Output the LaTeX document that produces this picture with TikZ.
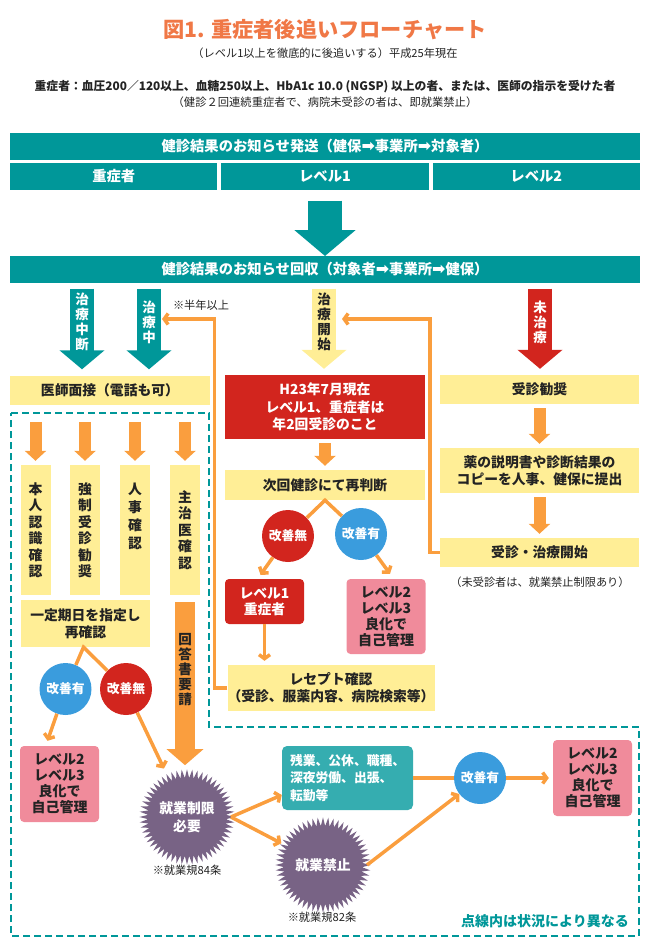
\documentclass[tikz,border=0pt]{standalone}
\usepackage{fontspec}
\setmainfont{Noto Sans CJK JP}
\newfontfamily\symfont{DejaVu Sans}
\usetikzlibrary{shapes.geometric, arrows.meta, positioning, calc}
\definecolor{myteal}{RGB}{0,151,153}
\definecolor{mytealb}{RGB}{53,173,176}
\definecolor{myyellow}{RGB}{255,238,150}
\definecolor{myorange}{RGB}{250,158,62}
\definecolor{myred}{RGB}{210,37,30}
\definecolor{myblue}{RGB}{58,156,221}
\definecolor{mypink}{RGB}{240,139,155}
\definecolor{mypurple}{RGB}{120,99,133}
\definecolor{mytitle}{RGB}{240,120,70}
\definecolor{mydark}{RGB}{35,35,35}
\newcommand{\nextarrow}{{\symfont\fontsize{16}{16}\selectfont ➡}}
\tikzset{
  bar/.style={rectangle, fill=myteal, text=white, minimum width=630pt,
    minimum height=27pt, inner sep=0pt, font=\fontsize{14.3}{16}\selectfont\bfseries},
  cell/.style={bar, minimum width=207.3pt},
  ybox/.style={rectangle, fill=myyellow, text=mydark, align=center, inner sep=0pt,
    minimum height=29pt, font=\fontsize{13.8}{17}\selectfont\bfseries},
  tallbox/.style={ybox, minimum width=30pt, minimum height=130pt,
    font=\fontsize{13.8}{16.5}\selectfont\bfseries},
  redbox/.style={rectangle, fill=myred, text=white, align=center, inner sep=0pt,
    font=\fontsize{13.8}{17.5}\selectfont\bfseries},
  pinkbox/.style={rectangle, fill=mypink, text=mydark, rounded corners=4pt, align=center,
    minimum width=79pt, minimum height=76pt, inner sep=0pt,
    font=\fontsize{14}{16}\selectfont\bfseries},
  okcirc/.style={circle, fill=myblue, text=white, minimum size=52pt, inner sep=0pt,
    font=\fontsize{12.8}{14}\selectfont\bfseries},
  ngcirc/.style={okcirc, fill=myred},
  burst/.style={star, star points=56, star point ratio=1.22, fill=mypurple, text=white,
    minimum size=89pt, inner sep=0pt, align=center, font=\fontsize{13.8}{18}\selectfont\bfseries},
  vtext/.style={align=center, inner sep=0pt, font=\fontsize{13.5}{15}\selectfont\bfseries},
  note/.style={inner sep=0pt, text=mydark, font=\fontsize{11.2}{12}\selectfont},
  oline/.style={draw=myorange, line width=3.5pt},
  oarrow/.style={oline, -{Straight Barb[length=4pt,width=11pt]}},
  fatarrow/.style={draw=myorange, line width=12pt, -{Triangle[length=10pt,width=21pt]},
    shorten <=4pt, shorten >=4pt},
  blockarrow/.style={line width=24pt, -{Triangle[length=19pt,width=44pt]},
    shorten <=6pt, shorten >=6pt}
}

\begin{document}
\begin{tikzpicture}[x=1pt, y=-1pt]
  \useasboundingbox (0,0) rectangle (650,946);

  % Title
  \node[text=mytitle, font=\fontsize{21.2}{24}\selectfont\bfseries] (title) at (325,30) {図1. 重症者後追いフローチャート};
  \node[note] (sub) at (325,53) {（レベル1以上を徹底的に後追いする）平成25年現在};
  \node[note, font=\fontsize{11.8}{13}\selectfont\bfseries] (crit) at (325,87) {重症者：血圧200／120以上、血糖250以上、HbA1c 10.0 (NGSP) 以上の者、または、医師の指示を受けた者};
  \node[note, font=\fontsize{11.3}{13}\selectfont] (crit2) at (325,102) {（健診２回連続重症者で、病院未受診の者は、即就業禁止）};

  % Send / receive bars
  \node[bar] (send) at (325,146) {健診結果のお知らせ発送（健保\nextarrow 事業所\nextarrow 対象者）};
  \node[cell] (cellA) at (113.7,176) {重症者};
  \node[cell] (cellB) at (325,176) {レベル1};
  \node[cell] (cellC) at (536.3,176) {レベル2};
  \draw[myteal, line width=34pt, -{Triangle[length=26pt,width=60pt]}]
    ([yshift=-11pt]cellB.south) -- ([yshift=13pt]cellB.south |- 0,269);
  \node[bar] (recv) at (325,269) {健診結果のお知らせ回収（対象者\nextarrow 事業所\nextarrow 健保）};

  % Boxes under the bar
  \node[ybox, minimum width=200pt] (interview) at (110,390) {医師面接（電話も可）};
  \node[redbox, minimum width=200pt, minimum height=64pt] (h23) at (325,407) {H23年7月現在\\レベル1、重症者は\\年2回受診のこと};
  \node[ybox, minimum width=199pt] (adv) at (539.5,389.5) {受診勧奨};
  \node[ybox, minimum width=199pt, minimum height=45pt] (copy) at (539.5,470.5) {薬の説明書や診断結果の\\コピーを人事、健保に提出};
  \node[ybox, minimum width=199pt] (start) at (539.5,552.5) {受診・治療開始};
  \node[note] (startnote) at (540,582) {（未受診者は、就業禁止制限あり）};

  % Block arrows
  \coordinate (colA) at (82,0);
  \coordinate (colB) at (149,0);
  \coordinate (colC) at (324,0);
  \coordinate (colD) at (540,0);
  \draw[blockarrow, myteal] (recv.south -| colA) -- (interview.north -| colA);
  \draw[blockarrow, myteal] (recv.south -| colB) -- (interview.north -| colB);
  \draw[blockarrow, myyellow] (recv.south -| colC) -- (h23.north -| colC);
  \draw[blockarrow, myred] (recv.south -| colD) -- (adv.north -| colD);
  \node[vtext, text=white] (stopped) at (82,322) {治\\療\\中\\断};
  \node[vtext, text=white] (treating) at (149,322) {治\\療\\中};
  \node[vtext, text=mydark] (begun) at (324,322) {治\\療\\開\\始};
  \node[vtext, text=white] (untreated) at (540,322) {未\\治\\療};
  \node[note] (halfyear) at (201,305) {※半年以上};

  % Middle column
  \node[ybox, minimum width=200pt, minimum height=30pt] (judge) at (325,485) {次回健診にて再判断};
  \node[ngcirc] (ng2) at (288,536) {改善無};
  \node[okcirc] (ok3) at (361,534) {改善有};
  \node[redbox, rounded corners=4pt, minimum width=79pt, minimum height=45pt,
    font=\fontsize{13.8}{16}\selectfont\bfseries] (l1) at (264.5,601.5) {レベル1\\重症者};
  \node[pinkbox, minimum height=75pt] (pink3) at (386,616.5) {レベル2\\レベル3\\良化で\\自己管理};
  \node[ybox, minimum width=200pt, minimum height=46pt] (rcpt) at (331,688) {レセプト確認\\（受診、服薬内容、病院検索等）};

  \draw[fatarrow] (h23) -- (judge);
  \draw[fatarrow] (adv) -- (copy);
  \draw[fatarrow] (copy) -- (start);
  \draw[oline] (ng2) -- (judge.south) -- (ok3);
  \draw[oarrow] (ng2) -- ([xshift=-4pt,yshift=4pt]l1.north);
  \draw[oarrow] (ok3) -- ([xshift=4pt,yshift=5pt]pink3.north);
  \draw[oarrow, shorten >=4pt] (l1) -- (l1 |- rcpt.north);

  % Loops back
  \coordinate (loopA) at (162,319);
  \coordinate (loopB) at (342,319);
  \draw[oarrow] (rcpt.west) -- ++(-13,0) |- (loopA);
  \draw[oarrow] (start.west) -- ++(-10,0) |- (loopB);

  % Dashed region
  \draw[myteal, line width=2.5pt, dash pattern=on 7pt off 4pt]
    (11,413) -- (209,413) -- (209,727) -- (639,727) -- (639,936) -- (11,936) -- cycle;
  \node[text=myteal, inner sep=0pt, font=\fontsize{14}{16}\selectfont\bfseries] (dashnote) at (545,921) {点線内は状況により異なる};

  % Checks
  \node[tallbox] (chk1) at (35.5,530) {本\\人\\認\\識\\確\\認};
  \node[tallbox] (chk2) at (85,530) {強\\制\\受\\診\\勧\\奨};
  \node[tallbox, font=\fontsize{13.8}{18}\selectfont\bfseries] (chk3) at (135,530) {人\\事\\確\\認\\[10pt]};
  \node[tallbox] (chk4) at (185,530) {主\\治\\医\\確\\認};
  \foreach \c in {chk1,chk2,chk3,chk4}
    \draw[fatarrow, shorten <=0pt, shorten >=0pt] ([yshift=43pt]\c.north) -- ([yshift=4pt]\c.north);
  \node[ybox, minimum width=129pt, minimum height=47pt] (recheck) at (85.5,623.5) {一定期日を指定し\\再確認};
  \node[okcirc] (ok1) at (65.5,689) {改善有};
  \node[ngcirc] (ng1) at (126,689) {改善無};
  \node[pinkbox] (pink1) at (59.5,784) {レベル2\\レベル3\\良化で\\自己管理};
  \draw[fatarrow, line width=20pt, -{Triangle[length=16pt,width=36pt]}, shorten <=0pt, shorten >=0pt]
    ([yshift=-7pt]chk4.south) -- ([yshift=-170pt]chk4.south);
  \node[vtext, text=mydark] (reply) at (185,670) {回\\答\\書\\要\\請};
  \draw[oline] (ok1) -- ([xshift=-2pt]recheck.south) -- (ng1);
  \draw[oarrow] (ok1) -- ([xshift=-12pt,yshift=5pt]pink1.north);

  % Work limits
  \node[burst] (burst84) at (187,817) {就業制限\\必要};
  \node[note, font=\fontsize{11.2}{13}\selectfont] (law84) at (187,870) {※就業規84条};
  \node[rectangle, fill=mytealb, text=white, rounded corners=5pt, align=left, text width=115pt,
    inner xsep=8pt, inner ysep=0pt, minimum height=64pt,
    font=\fontsize{12.8}{17.5}\selectfont\bfseries] (ovt) at (347.5,778) {残業、公休、職種、\\深夜労働、出張、\\転勤等};
  \node[burst] (burst82) at (323,865) {就業禁止};
  \node[note, font=\fontsize{11.2}{13}\selectfont] (law82) at (322,917) {※就業規82条};
  \node[okcirc] (ok2) at (480,778) {改善有};
  \node[pinkbox] (pink2) at (592.5,778) {レベル2\\レベル3\\良化で\\自己管理};

  \draw[oarrow, shorten >=6pt] (ng1) -- (burst84);
  \draw[oarrow] ([xshift=44pt]burst84.center) -- ([yshift=-17pt]ovt.west);
  \draw[oarrow, shorten >=4pt] ([xshift=44pt]burst84.center) -- (burst82);
  \draw[oline] (ovt) -- (ok2);
  \draw[oarrow, shorten >=4pt] (ok2) -- (pink2);
  \draw[oarrow] ([xshift=44pt]burst82.center) -- (ok2);
\end{tikzpicture}
\end{document}
